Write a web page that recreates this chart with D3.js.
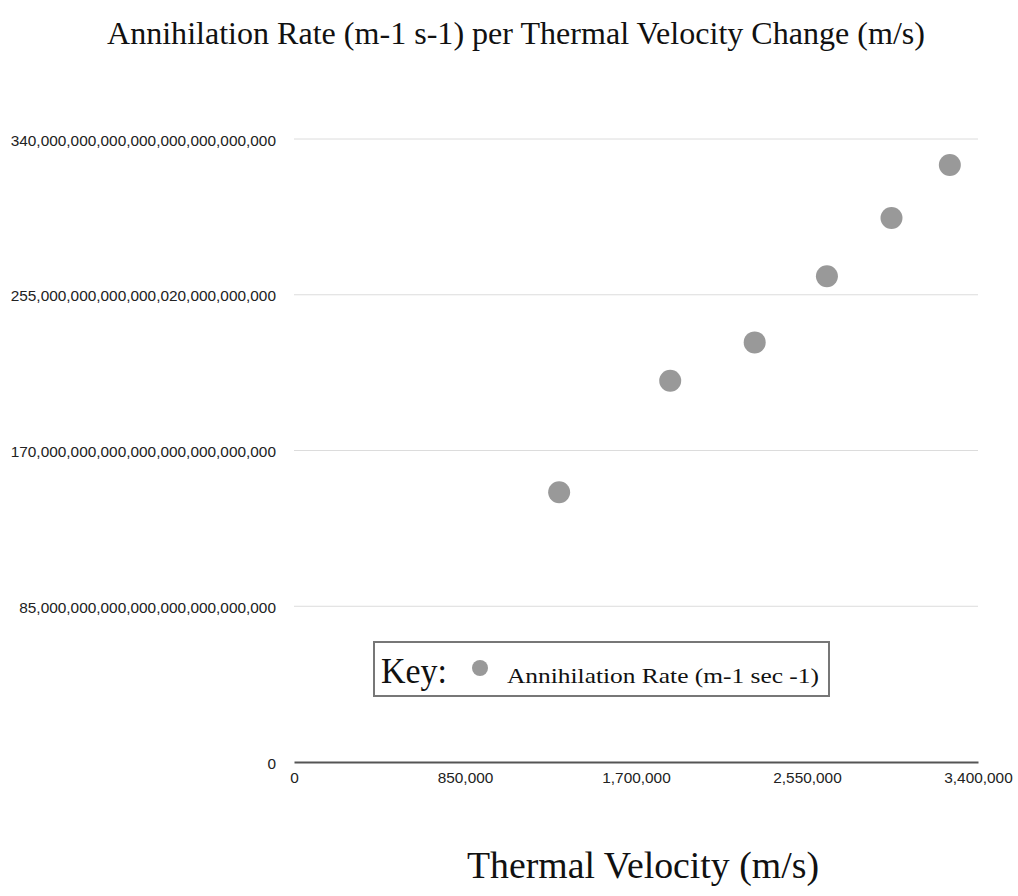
<!DOCTYPE html>
<html>
<head>
<meta charset="utf-8">
<script src="https://cdn.jsdelivr.net/npm/d3@7"></script>
<style>
  body { margin: 0; background: #fff; }
</style>
</head>
<body>
<div id="chart"></div>
<script>
// data
const velocities = [1318000, 1870000, 2290000, 2649000, 2970000, 3260000];
const rates = [147.2e27, 208.1e27, 229.0e27, 265.1e27, 296.9e27, 325.8e27];
const yTicks = [0, 85e27, 170e27, 255e27, 340e27];
const yTickLabels = [
    "0",
    "85,000,000,000,000,000,000,000,000",
    "170,000,000,000,000,000,000,000,000",
    "255,000,000,000,000,020,000,000,000",
    "340,000,000,000,000,000,000,000,000"
];
const xTicks = [0, 850000, 1700000, 2550000, 3400000];

const width = 1018, height = 896;
const margin = {left: 294, right: 40, top: 139, bottom: 134};

const svg = d3.select("#chart").append("svg")
    .attr("width", width)
    .attr("height", height);

const x = d3.scaleLinear().domain([0, 3400000]).range([margin.left, width - margin.right]);
const y = d3.scaleLinear().domain([0, 340e27]).range([height - margin.bottom, margin.top]);

// title
svg.append("text")
    .attr("x", 516).attr("y", 44)
    .attr("text-anchor", "middle")
    .attr("textLength", 818).attr("lengthAdjust", "spacingAndGlyphs")
    .style("font-family", "'Liberation Serif', serif")
    .style("font-size", "31px")
    .style("fill", "#111")
    .text("Annihilation Rate (m-1 s-1) per Thermal Velocity Change (m/s)");

// gridlines
svg.append("g").selectAll("line")
    .data(yTicks.slice(1))
    .join("line")
    .attr("x1", x(0)).attr("x2", x(3400000))
    .attr("y1", d => y(d)).attr("y2", d => y(d))
    .style("stroke", "#dcdcdc").style("stroke-width", 1);

// y axis labels
const yAxis = d3.axisLeft(y)
    .tickValues(yTicks)
    .tickSize(0)
    .tickPadding(18)
    .tickFormat((d, i) => yTickLabels[i]);
const gy = svg.append("g").attr("transform", `translate(${x(0)},0)`).call(yAxis);
gy.select(".domain").remove();
gy.selectAll("text")
    .attr("dy", "0.4em")
    .style("font-family", "'Liberation Sans', Arial, sans-serif")
    .style("font-size", "15.4px")
    .style("fill", "#222");

// x axis
const xAxis = d3.axisBottom(x)
    .tickValues(xTicks)
    .tickSize(0)
    .tickPadding(10)
    .tickFormat(d3.format(","));
const gx = svg.append("g").attr("transform", `translate(0,${y(0)})`).call(xAxis);
gx.select(".domain").style("stroke", "#555").style("stroke-width", 2);
gx.selectAll("text")
    .style("font-family", "'Liberation Sans', Arial, sans-serif")
    .style("font-size", "15.4px")
    .style("fill", "#222");

// points
svg.append("g").selectAll("circle")
    .data(velocities.map((v, i) => [v, rates[i]]))
    .join("circle")
    .attr("cx", d => x(d[0]))
    .attr("cy", d => y(d[1]))
    .attr("r", 11)
    .style("fill", "#999");

// legend
const legend = svg.append("g");
legend.append("rect")
    .attr("x", 374).attr("y", 642)
    .attr("width", 455).attr("height", 54)
    .style("fill", "#fff").style("stroke", "#777").style("stroke-width", 2);
legend.append("text")
    .attr("x", 381).attr("y", 683)
    .attr("textLength", 66).attr("lengthAdjust", "spacingAndGlyphs")
    .style("font-family", "'Liberation Serif', serif")
    .style("font-size", "36px")
    .style("fill", "#111")
    .text("Key:");
legend.append("circle")
    .attr("cx", 480).attr("cy", 668).attr("r", 8)
    .style("fill", "#999");
legend.append("text")
    .attr("x", 507).attr("y", 683)
    .attr("textLength", 312).attr("lengthAdjust", "spacingAndGlyphs")
    .style("font-family", "'Liberation Serif', serif")
    .style("font-size", "22px")
    .style("fill", "#111")
    .text("Annihilation Rate (m-1 sec -1)");

// x axis title
svg.append("text")
    .attr("x", 643).attr("y", 878)
    .attr("text-anchor", "middle")
    .attr("textLength", 352).attr("lengthAdjust", "spacingAndGlyphs")
    .style("font-family", "'Liberation Serif', serif")
    .style("font-size", "37px")
    .style("fill", "#111")
    .text("Thermal Velocity (m/s)");
</script>
</body>
</html>
